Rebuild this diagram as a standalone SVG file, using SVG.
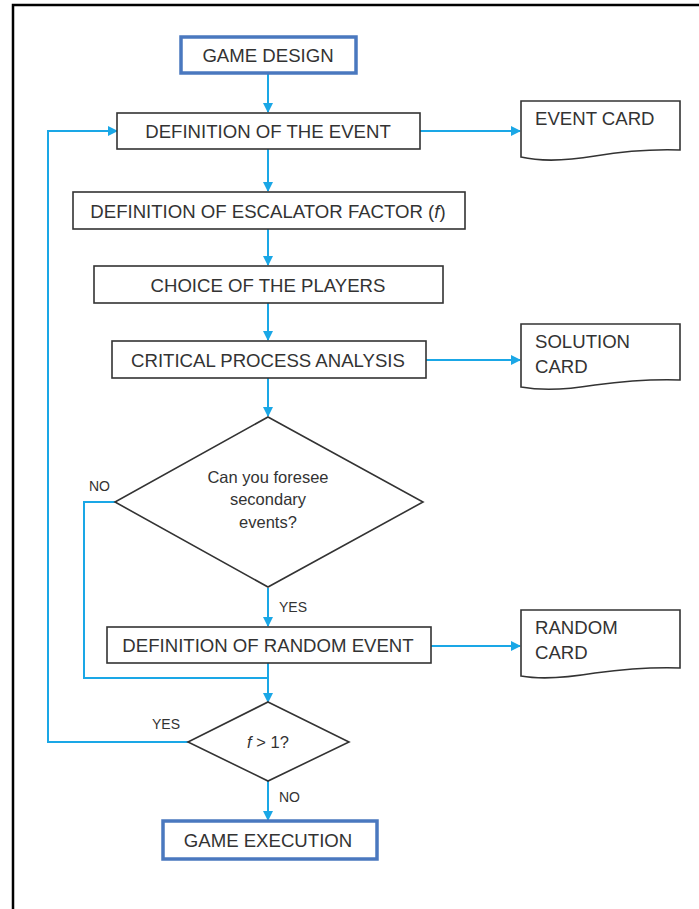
<svg xmlns="http://www.w3.org/2000/svg" width="699" height="909" viewBox="0 0 699 909">
<defs>
<marker id="ah" markerWidth="10" markerHeight="10" refX="9" refY="5" orient="auto" markerUnits="userSpaceOnUse">
<path d="M0,0 L10,5 L0,10 Z" fill="#1aa7e6"/>
</marker>
<style>
.box{fill:#fff;stroke:#333;stroke-width:1.6}
.term{fill:#fff;stroke:#4a78bf;stroke-width:3.5}
.t{font-family:"Liberation Sans",Arial,sans-serif;font-size:18.6px;fill:#333;text-anchor:middle}
.tl{font-family:"Liberation Sans",Arial,sans-serif;font-size:18.6px;fill:#333}
.td{font-family:"Liberation Sans",Arial,sans-serif;font-size:16.5px;fill:#333;text-anchor:middle}
.lb{font-family:"Liberation Sans",Arial,sans-serif;font-size:14px;fill:#333}
.c{fill:none;stroke:#1aa7e6;stroke-width:2}
</style>
</defs>
<rect x="0" y="0" width="699" height="909" fill="#fff"/>
<rect x="13" y="5" width="720" height="940" fill="none" stroke="#000" stroke-width="2.5"/>

<g id="connectors">
<path class="c" d="M268,73 V112" marker-end="url(#ah)"/>
<path class="c" d="M268,149 V191" marker-end="url(#ah)"/>
<path class="c" d="M268,229 V265" marker-end="url(#ah)"/>
<path class="c" d="M268,303 V340" marker-end="url(#ah)"/>
<path class="c" d="M268,378 V416" marker-end="url(#ah)"/>
<path class="c" d="M268,588 V626" marker-end="url(#ah)"/>
<path class="c" d="M268,663 V702" marker-end="url(#ah)"/>
<path class="c" d="M268,781 V820" marker-end="url(#ah)"/>
<path class="c" d="M420,131 H520" marker-end="url(#ah)"/>
<path class="c" d="M426,360 H520" marker-end="url(#ah)"/>
<path class="c" d="M431,646 H520" marker-end="url(#ah)"/>
<path class="c" d="M115,502 H84 V678 H268"/>
<path class="c" d="M188,742 H48 V131 H117" marker-end="url(#ah)"/>
<text class="lb" x="89" y="491">NO</text>
<text class="lb" x="279" y="612">YES</text>
<text class="lb" x="152" y="729">YES</text>
<text class="lb" x="279" y="802">NO</text>
</g>

<g id="game-design">
<rect class="term" x="181" y="37" width="175" height="36"/>
<text class="t" x="268" y="62">GAME DESIGN</text>
</g>
<g id="definition-event">
<rect class="box" x="117" y="113" width="303" height="36"/>
<text class="t" x="268" y="137.5">DEFINITION OF THE EVENT</text>
</g>
<g id="event-card">
<path class="box" d="M521,101 H680 V150 C650,149 625,151 595,156 C565,161 538,161 521,157 Z"/>
<text class="tl" x="535" y="125">EVENT CARD</text>
</g>
<g id="escalator">
<rect class="box" x="73" y="192" width="392" height="37"/>
<text class="t" x="268" y="217.5">DEFINITION OF ESCALATOR FACTOR (<tspan font-style="italic">f</tspan>)</text>
</g>
<g id="players">
<rect class="box" x="94" y="266" width="349" height="37"/>
<text class="t" x="268" y="291.5">CHOICE OF THE PLAYERS</text>
</g>
<g id="critical">
<rect class="box" x="112" y="341" width="314" height="37"/>
<text class="t" x="268" y="366.5">CRITICAL PROCESS ANALYSIS</text>
</g>
<g id="solution-card">
<path class="box" d="M521,324 H680 V380 C650,379 625,381 595,385 C565,390 538,390 521,387 Z"/>
<text class="tl" x="535" y="348">SOLUTION</text>
<text class="tl" x="535" y="373">CARD</text>
</g>
<g id="foresee">
<polygon class="box" points="268,417 423,502 268,587 115,502"/>
<text class="td" x="268" y="483">Can you foresee</text>
<text class="td" x="268" y="505">secondary</text>
<text class="td" x="268" y="528">events?</text>
</g>
<g id="random-event">
<rect class="box" x="107" y="627" width="324" height="36"/>
<text class="t" x="268" y="652">DEFINITION OF RANDOM EVENT</text>
</g>
<g id="random-card">
<path class="box" d="M521,610 H680 V668 C650,667 625,669 595,673 C565,678 538,679 521,676 Z"/>
<text class="tl" x="535" y="634">RANDOM</text>
<text class="tl" x="535" y="659">CARD</text>
</g>
<g id="f-check">
<polygon class="box" points="268,702 349,742 268,781 188,742"/>
<text class="td" x="268" y="748"><tspan font-style="italic">f</tspan> &gt; 1?</text>
</g>
<g id="game-execution">
<rect class="term" x="163" y="821" width="214" height="38"/>
<text class="t" x="268" y="847">GAME EXECUTION</text>
</g>
</svg>
